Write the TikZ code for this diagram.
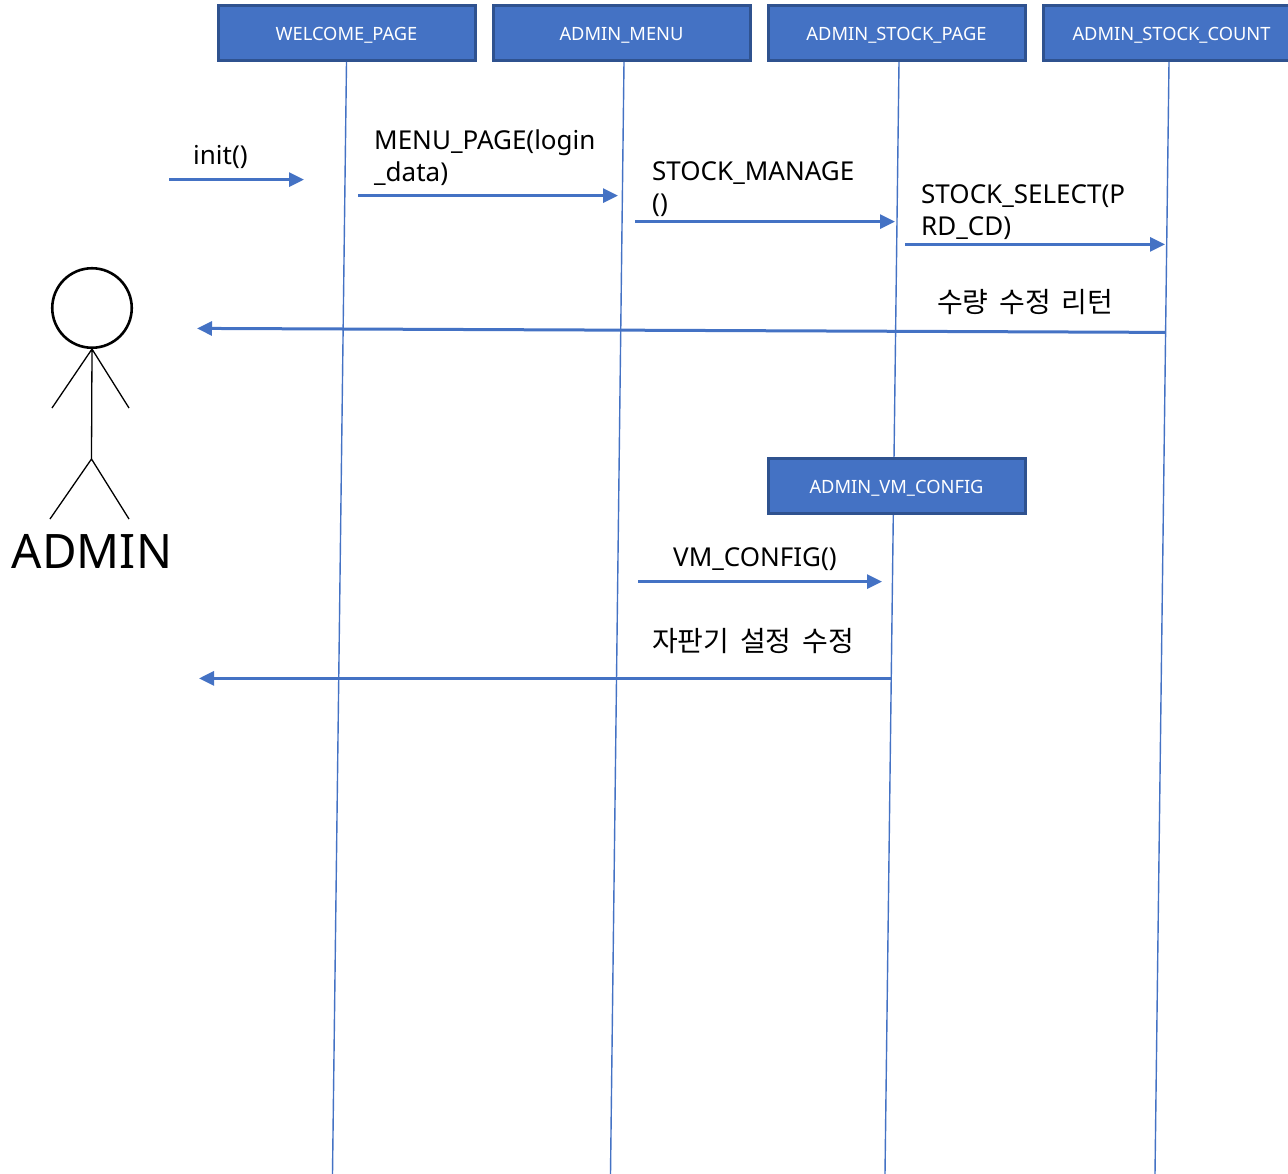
\documentclass[tikz,border=0pt]{standalone}
\usepackage{fontspec}
\setmainfont{Noto Sans}
\newfontfamily\cjk[WordSpace=1.7]{Noto Sans CJK KR}
\usetikzlibrary{positioning,arrows.meta}
\definecolor{boxblue}{HTML}{4472C4}
\definecolor{boxline}{HTML}{2F528F}
\tikzset{page node/.style={rectangle, fill=boxblue, draw=boxline, line width=3pt, text=white, minimum width=257pt, minimum height=55pt, inner sep=0pt, text height=18pt, text depth=3.3pt, font=\fontsize{18.3}{22}\selectfont}, }
\tikzset{life line/.style={draw=boxblue, line width=1.4pt}, }
\tikzset{call line/.style={draw=boxblue, line width=3pt, -{Triangle[length=15pt,width=14pt]}}, }
\tikzset{call text/.style={inner sep=0pt, align=left, anchor=west, font=\fontsize{26}{32}\selectfont}, }
\tikzset{hangul text/.style={inner sep=0pt, anchor=west, font=\fontsize{28}{32}\selectfont\cjk}, }
\tikzset{stick line/.style={draw=black, line width=1.3pt}, }

\begin{document}
\begin{tikzpicture}[x=1pt,y=-1pt]
	\useasboundingbox (0,0) rectangle (1288,1174);
	\node[page node] (welcome) at (346.5,33.5) {WELCOME\_PAGE};
	\node[page node] (menu) [right = 15pt of welcome]{ADMIN\_MENU};
	\node[page node] (stock) [right = 15pt of menu]{ADMIN\_STOCK\_PAGE};
	\node[page node] (count) [right = 15pt of stock]{ADMIN\_STOCK\_COUNT};
	\coordinate (welcome end) at (332.5,1174);
	\coordinate (menu end) at (610.5,1174);
	\coordinate (stock end) at (885,1174);
	\coordinate (count end) at (1155,1174);
	\coordinate (welcome top) at (346.5,62);
	\coordinate (menu top) at (624,62);
	\coordinate (stock top) at (899,62);
	\coordinate (count top) at (1169,62);
	\path[life line]
		(welcome top) -- (welcome end)
		(menu top) -- (menu end)
		(stock top) -- (stock end)
		(count top) -- (count end)
		;
	\node[page node] (config) at (896.5,486) {ADMIN\_VM\_CONFIG};

	\node[circle, draw=black, line width=2.6pt, minimum size=79.5pt, inner sep=0pt] (head) at (92,308) {};
	\coordinate (hip) at (91.5,459);
	\coordinate (left hand) at (52,408);
	\coordinate (right hand) at (129,408);
	\coordinate (left foot) at (50,519);
	\coordinate (right foot) at (129,519);
	\path[stick line]
		(head.south) -- (hip)
		(head.south) -- (left hand)
		(head.south) -- (right hand)
		(hip) -- (left foot)
		(hip) -- (right foot)
		;
	\node[inner sep=0pt, font=\fontsize{47.5}{56}\selectfont] (admin) at (92,551) {ADMIN};

	\coordinate (a1) at (169,179.6);
	\coordinate (b1) at (304,179.6);
	\coordinate (a2) at (358,195.6);
	\coordinate (b2) at (618,195.6);
	\coordinate (a3) at (635,221.6);
	\coordinate (b3) at (895,221.6);
	\coordinate (a4) at (905,244.4);
	\coordinate (b4) at (1165,244.4);
	\coordinate (a5) at (1165,332.4);
	\coordinate (b5) at (197,328.4);
	\coordinate (a6) at (638,581.6);
	\coordinate (b6) at (882,581.6);
	\coordinate (a7) at (891,678.4);
	\coordinate (b7) at (199,678.4);
	\path[call line] (a1) -- (b1);
	\path[call line] (a2) -- (b2);
	\path[call line] (a3) -- (b3);
	\path[call line] (a4) -- (b4);
	\path[call line] (a5) -- (b5);
	\path[call line] (a6) -- (b6);
	\path[call line] (a7) -- (b7);

	\node[call text] (t1) at (193,157) {init()};
	\node[call text] (t2) at (374,158) {MENU\_PAGE(login\\\_data)};
	\node[call text] (t3) at (652,189) {STOCK\_MANAGE\\()};
	\node[call text] (t4) at (921,212) {STOCK\_SELECT(P\\RD\_CD)};
	\node[hangul text] (t5) at (937,302) {수량 수정 리턴};
	\node[call text] (t6) at (673,559) {VM\_CONFIG()};
	\node[hangul text] (t7) at (652,641) {자판기 설정 수정};
\end{tikzpicture}
\end{document}
